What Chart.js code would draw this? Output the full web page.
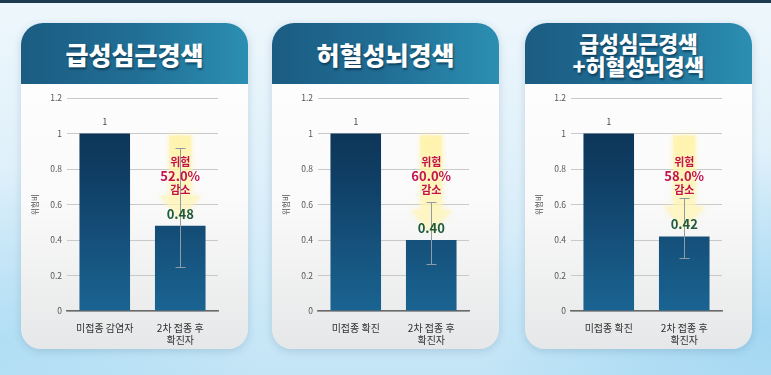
<!DOCTYPE html>
<html lang="ko">
<head>
<meta charset="utf-8">
<script src="https://cdn.jsdelivr.net/npm/chart.js@4.4.1/dist/chart.umd.min.js"></script>
<style>
  html,body{margin:0;padding:0;}
  body{width:771px;height:375px;overflow:hidden;position:relative;
    background:
      radial-gradient(ellipse 420px 260px at 760px 330px, rgba(140,205,240,0.6), rgba(140,205,240,0) 70%),
      radial-gradient(ellipse 380px 240px at 0px 340px, rgba(160,215,242,0.55), rgba(160,215,242,0) 70%),
      linear-gradient(to bottom, #eef7fc 0%, #dff0fa 45%, #c3e5f6 100%);
    font-family:"Noto Sans CJK KR","Noto Sans",sans-serif;}
  .topbar{position:absolute;left:0;top:0;width:771px;height:3px;background:#1d3b50;}
  .card{position:absolute;top:23px;height:326px;border-radius:22px 22px 20px 20px;
    background:linear-gradient(to bottom,#ffffff 0%,#fafafa 55%,#e6e7e8 100%);
    box-shadow:0 2px 8px rgba(40,80,110,0.18);overflow:hidden;}
  .head{position:absolute;left:0;top:0;right:0;height:61px;
    background:linear-gradient(to right,#1b5c82 0%,#216e95 50%,#2b8fb2 100%);
    color:#fff;font-weight:900;display:flex;align-items:center;justify-content:center;
    text-align:center;text-shadow:1px 2px 2px rgba(0,30,50,0.55);}
  .h1{font-size:25px;line-height:26px;}
  .h2{font-size:21.5px;line-height:23px;}
  canvas{position:absolute;}
</style>
</head>
<body>
<div class="topbar"></div>
<div class="card" style="left:21px;width:227px;"><div class="head h1">급성심근경색</div></div>
<div class="card" style="left:272px;width:227px;"><div class="head h1">허혈성뇌경색</div></div>
<div class="card" style="left:525px;width:227px;"><div class="head h2">급성심근경색<br>+허혈성뇌경색</div></div>
<canvas id="c1" width="227" height="262" style="left:21px;top:88px;"></canvas>
<canvas id="c2" width="227" height="262" style="left:272px;top:88px;"></canvas>
<canvas id="c3" width="227" height="262" style="left:525px;top:88px;"></canvas>
<script>
// ---- data ----
const categories1 = ['미접종 감염자', ['2차 접종 후', '확진자']];
const categories2 = ['미접종 확진', ['2차 접종 후', '확진자']];
const categories3 = ['미접종 확진', ['2차 접종 후', '확진자']];
const values1 = [1, 0.48];
const values2 = [1, 0.40];
const values3 = [1, 0.42];
const errLow1 = [null, 0.25];
const errHigh1 = [null, 0.92];
const errLow2 = [null, 0.265];
const errHigh2 = [null, 0.615];
const errLow3 = [null, 0.30];
const errHigh3 = [null, 0.635];
const reductions = ['52.0%', '60.0%', '58.0%'];
const valueLabels1 = ['1', '0.48'];
const valueLabels2 = ['1', '0.40'];
const valueLabels3 = ['1', '0.42'];
const yTickValues = [0, 0.2, 0.4, 0.6, 0.8, 1, 1.2];
const yTickLabels = ['0', '0.2', '0.4', '0.6', '0.8', '1', '1.2'];
const yTitle = '위험비';

const FONT = '"Noto Sans CJK KR","Noto Sans",sans-serif';

const annot = {
  id: 'annot',
  beforeDatasetsDraw(chart, args, o) {
    const ctx = chart.ctx, y = chart.scales.y;
    const bar = chart.getDatasetMeta(0).data[1];
    const cx = bar.x;
    const top = y.getPixelForValue(1) + 2;
    const tip = bar.y - 6;
    const headH = 24, shaftW = 22, headW = 42;
    const hb = tip - headH;
    ctx.save();
    const g = ctx.createLinearGradient(0, top, 0, tip);
    g.addColorStop(0, 'rgba(255,242,165,0.75)');
    g.addColorStop(1, 'rgba(255,246,185,0.45)');
    ctx.fillStyle = g;
    ctx.shadowColor = 'rgba(255,240,160,0.9)';
    ctx.shadowBlur = 6;
    ctx.beginPath();
    ctx.moveTo(cx - shaftW / 2, top);
    ctx.lineTo(cx + shaftW / 2, top);
    ctx.lineTo(cx + shaftW / 2, hb);
    ctx.lineTo(cx + headW / 2, hb);
    ctx.lineTo(cx, tip);
    ctx.lineTo(cx - headW / 2, hb);
    ctx.lineTo(cx - shaftW / 2, hb);
    ctx.closePath();
    ctx.fill();
    ctx.restore();
  },
  afterDatasetsDraw(chart, args, o) {
    const ctx = chart.ctx, y = chart.scales.y;
    const meta = chart.getDatasetMeta(0);
    ctx.save();
    ctx.strokeStyle = '#8f9ca6';
    ctx.lineWidth = 1;
    meta.data.forEach((b, i) => {
      if (o.low[i] == null) return;
      const yl = Math.round(y.getPixelForValue(o.low[i])) + 0.5;
      const yh = Math.round(y.getPixelForValue(o.high[i])) + 0.5;
      const x = Math.round(b.x) + 0.5;
      ctx.beginPath();
      ctx.moveTo(x, yl); ctx.lineTo(x, yh);
      ctx.moveTo(x - 5, yl); ctx.lineTo(x + 5, yl);
      ctx.moveTo(x - 5, yh); ctx.lineTo(x + 5, yh);
      ctx.stroke();
    });
    ctx.textAlign = 'center';
    ctx.textBaseline = 'middle';
    const b0 = meta.data[0], b1 = meta.data[1];
    ctx.fillStyle = '#444';
    ctx.font = '8.5px ' + FONT;
    ctx.fillText(o.labels[0], b0.x, b0.y - 12);
    ctx.fillStyle = '#1f5a3c';
    ctx.font = 'bold 13px ' + FONT;
    ctx.fillText(o.labels[1], b1.x, b1.y - 12);
    ctx.fillStyle = '#c2134f';
    ctx.font = 'bold 11px ' + FONT;
    ctx.fillText('위험', b1.x, y.getPixelForValue(0.84));
    ctx.font = 'bold 13px ' + FONT;
    ctx.fillText(o.reduction, b1.x, y.getPixelForValue(0.763));
    ctx.font = 'bold 11px ' + FONT;
    ctx.fillText('감소', b1.x, y.getPixelForValue(0.685));
    ctx.restore();
  }
};

function barGradient(context) {
  const ca = context.chart.chartArea;
  if (!ca) return '#134c75';
  const g = context.chart.ctx.createLinearGradient(0, ca.top, 0, ca.bottom);
  g.addColorStop(0, '#0b2f4f');
  g.addColorStop(0.35, '#0f3d63');
  g.addColorStop(1, '#1a6492');
  return g;
}

function makeChart(id, cats, vals, low, high, red, labels) {
  return new Chart(document.getElementById(id), {
    type: 'bar',
    data: {
      labels: cats,
      datasets: [{
        data: vals,
        backgroundColor: barGradient,
        borderWidth: 0,
        barPercentage: 0.67,
        categoryPercentage: 1
      }]
    },
    options: {
      responsive: false,
      animation: false,
      events: [],
      layout: { padding: { left: 0, right: 30, top: 10, bottom: 0 } },
      plugins: {
        legend: { display: false },
        tooltip: { enabled: false },
        annot: { low: low, high: high, reduction: red, labels: labels }
      },
      scales: {
        x: {
          grid: { display: false },
          border: { display: true, color: '#6b6b6b', width: 1.5 },
          ticks: { color: '#333', font: { family: FONT, size: 10 }, padding: 3, maxRotation: 0, autoSkip: false },
          afterFit(s) { s.height = 39; }
        },
        y: {
          min: 0, max: 1.2,
          afterBuildTicks(s) { s.ticks = yTickValues.map(v => ({ value: v })); },
          grid: { color: '#c9c9c9', lineWidth: 1, drawTicks: false },
          border: { display: false },
          ticks: {
            color: '#555', font: { family: FONT, size: 8.5 }, padding: 5,
            callback(v) { const i = yTickValues.indexOf(v); return i >= 0 ? yTickLabels[i] : ''; }
          },
          title: { display: true, text: yTitle, color: '#555', font: { family: FONT, size: 7.5 }, padding: { top: 10, bottom: 4 } },
          afterFit(s) { s.width = 46; }
        }
      }
    },
    plugins: [annot]
  });
}

makeChart('c1', categories1, values1, errLow1, errHigh1, reductions[0], valueLabels1);
makeChart('c2', categories2, values2, errLow2, errHigh2, reductions[1], valueLabels2);
makeChart('c3', categories3, values3, errLow3, errHigh3, reductions[2], valueLabels3);
</script>
</body>
</html>
